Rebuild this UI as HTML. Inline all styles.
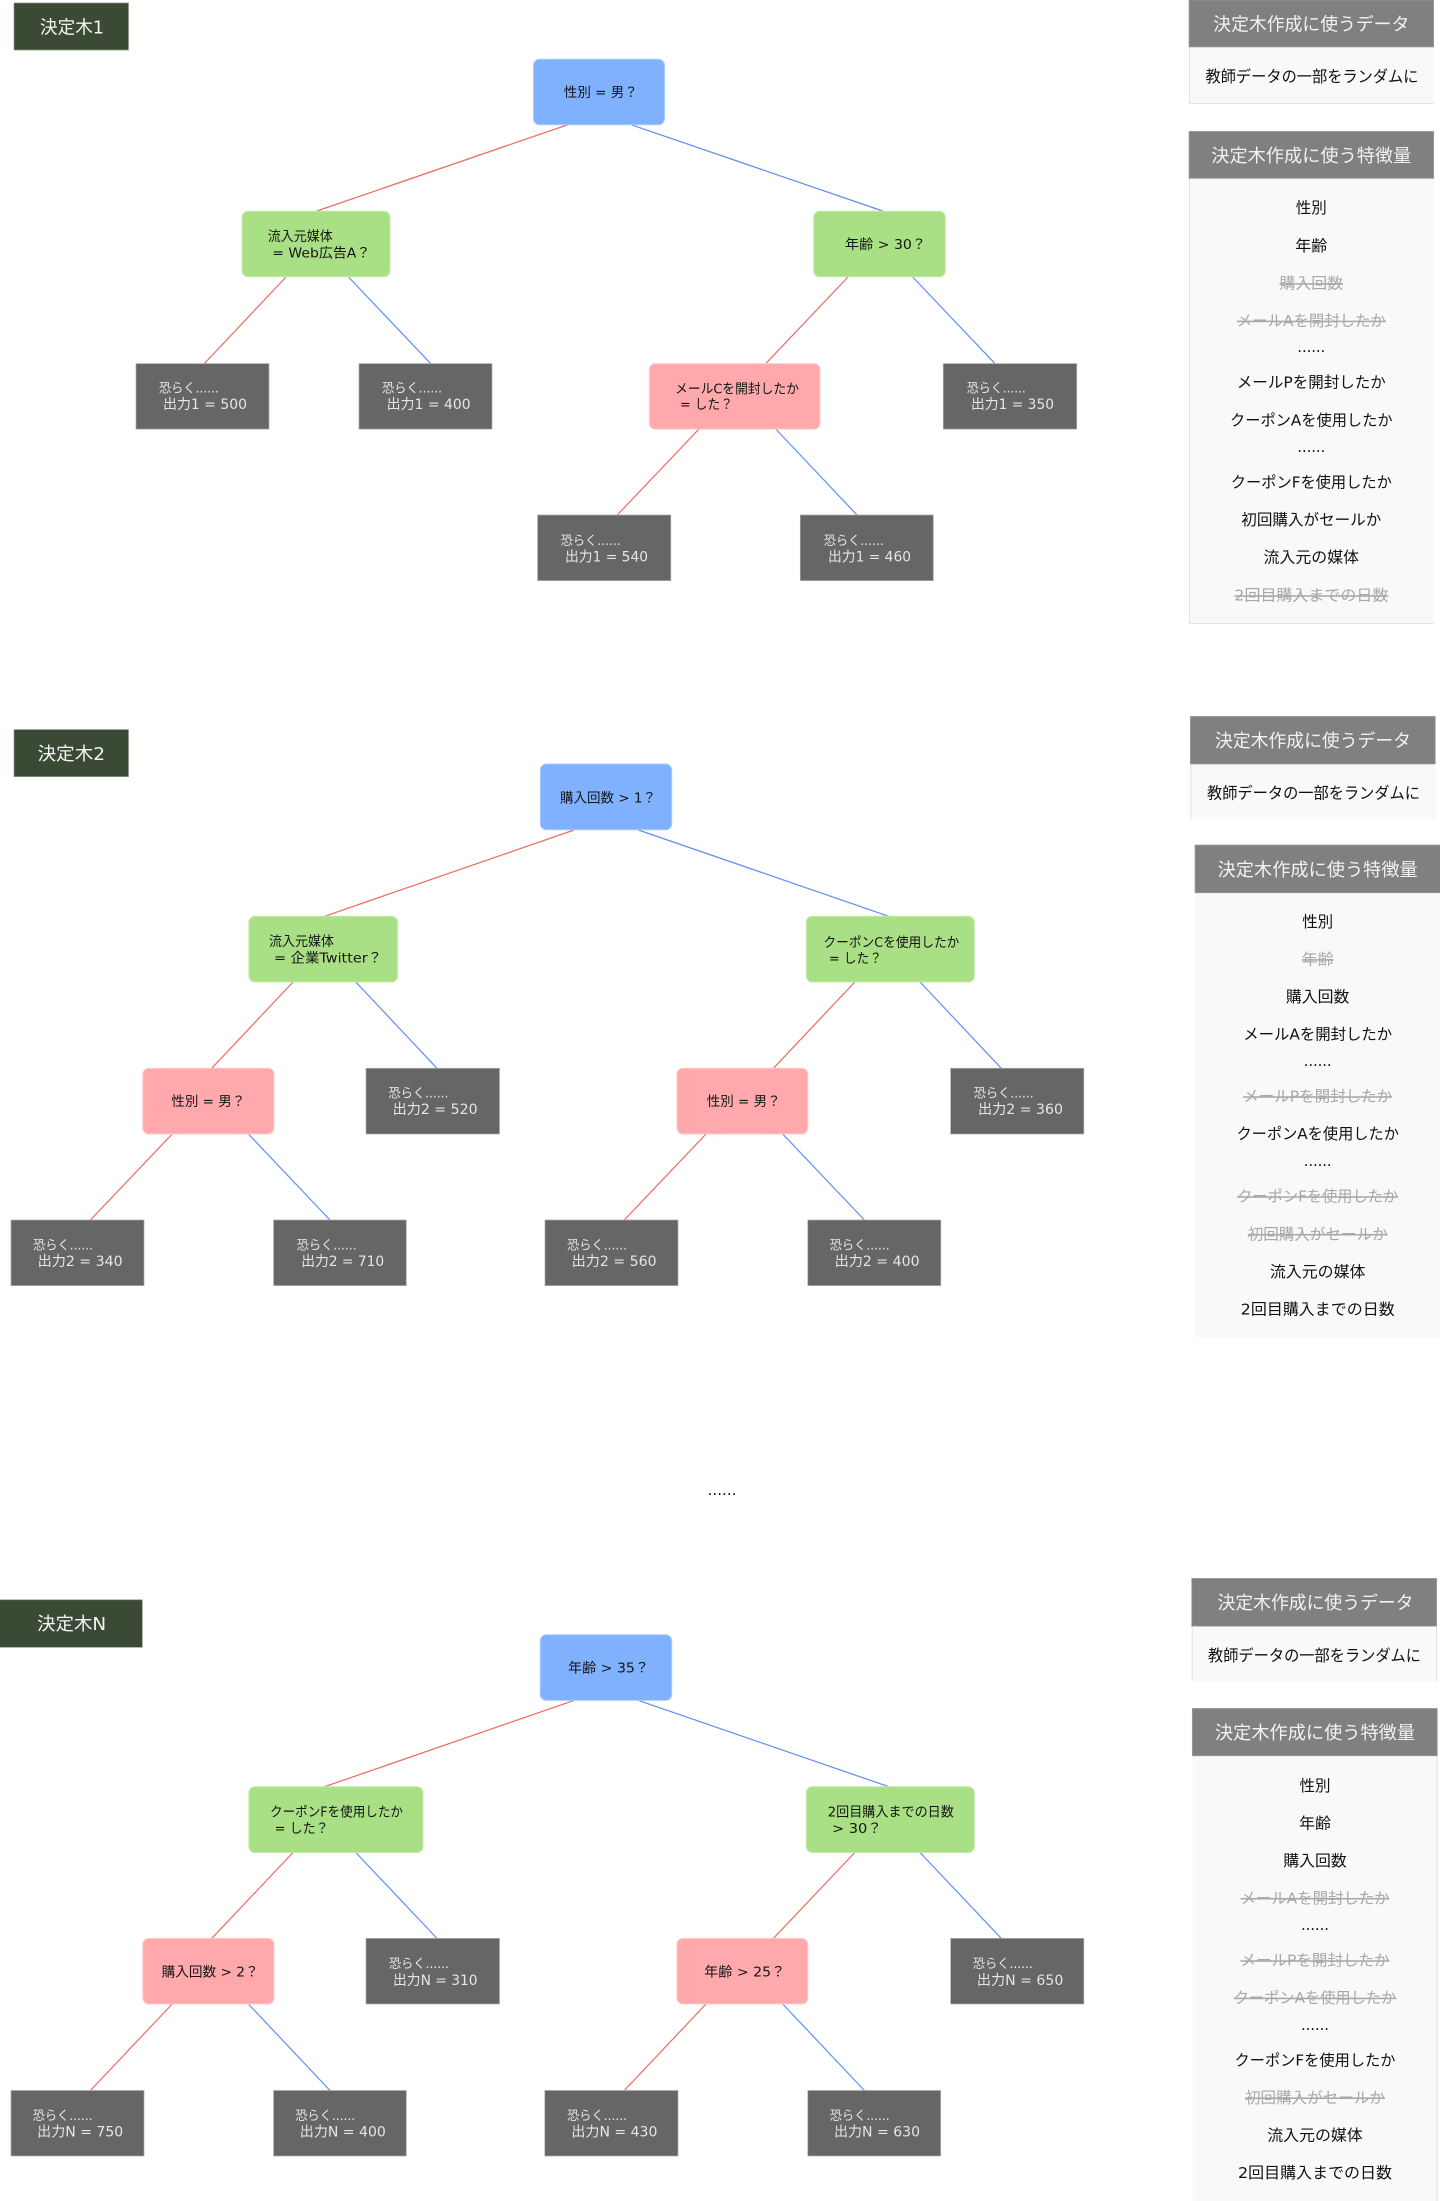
<!DOCTYPE html>
<html lang="ja">
<head>
<meta charset="utf-8">
<title>決定木</title>
<style>
html,body{margin:0;padding:0;background:#fff;width:1440px;height:2201px;overflow:hidden}
svg{display:block}
text{font-family:"DejaVu Sans","Noto Sans CJK JP",sans-serif}
.r{stroke:#ee6a5e;stroke-width:1.2;fill:none}
.b{stroke:#5f8ff0;stroke-width:1.2;fill:none}
.nb{fill:#80b1ff;stroke:#a9cbff;stroke-width:1}
.ng{fill:#aae085;stroke:#c4eaa9;stroke-width:1}
.np{fill:#ffa9ac;stroke:#ffcccd;stroke-width:1}
.lf{fill:#666;stroke:#aaa;stroke-width:.7}
.lb{fill:#3b4a35;stroke:#8a9385;stroke-width:.7}
.hd{fill:#808080;stroke:#a0a0a0;stroke-width:.7}
.bd{fill:#f9f9f9}
.e{stroke:#e2e2e2;stroke-width:1;fill:none}
.n{font-size:13.5px;fill:#151515}
.w1{font-size:13px;fill:#e6e6e6}
.w2{font-size:14px;fill:#e6e6e6}
.t{font-size:18px;fill:#f4f4f4}
.h{font-size:18px;fill:#f2f2f2;text-anchor:middle}
.d{font-size:16px;fill:#111;text-anchor:middle}
.i{font-size:15.5px;fill:#111;text-anchor:middle}
.s{font-size:15.5px;fill:#a8a8a8;text-anchor:middle;text-decoration:line-through}
.o{font-size:15px;fill:#111;text-anchor:middle}
</style>
</head>
<body>
<svg xmlns="http://www.w3.org/2000/svg" width="1440" height="2201" viewBox="0 0 1440 2201">
<rect width="1440" height="2201" fill="#fff"/>

<!-- Tree 1 connectors -->
<line class="r" x1="567" y1="125" x2="316.8" y2="211"/>
<line class="b" x1="632" y1="125" x2="882.7" y2="211"/>
<line class="r" x1="286" y1="277" x2="204.3" y2="363.6"/>
<line class="b" x1="348.5" y1="277" x2="430.7" y2="363.6"/>
<line class="r" x1="848" y1="277" x2="766" y2="363.3"/>
<line class="b" x1="912.7" y1="277" x2="994.7" y2="363.3"/>
<line class="r" x1="699" y1="429" x2="617.3" y2="515"/>
<line class="b" x1="775.7" y1="429" x2="857" y2="515"/>

<!-- Tree 1 nodes -->
<rect class="lb" x="14" y="3" width="114.5" height="47"/>
<text class="t" x="40" y="33.3" textLength="64" lengthAdjust="spacingAndGlyphs">決定木1</text>
<rect class="nb" x="533.5" y="59.3" width="131" height="65.5" rx="6"/>
<text class="n" x="563.8" y="97" textLength="74" lengthAdjust="spacingAndGlyphs">性別 = 男？</text>
<rect class="ng" x="242" y="211.3" width="148" height="65.5" rx="6"/>
<text class="n" x="267.7" y="241" textLength="65" lengthAdjust="spacingAndGlyphs">流入元媒体</text>
<text class="n" x="272.3" y="257.6" textLength="98" lengthAdjust="spacingAndGlyphs">= Web広告A？</text>
<rect class="ng" x="813.7" y="211.3" width="131.6" height="65.5" rx="6"/>
<text class="n" x="845" y="249" textLength="81" lengthAdjust="spacingAndGlyphs">年齢 &gt; 30？</text>
<rect class="lf" x="136" y="363.6" width="133" height="65.5"/>
<text class="w1" x="158.9" y="392.7" textLength="60" lengthAdjust="spacingAndGlyphs">恐らく......</text>
<text class="w2" x="163" y="409" textLength="84" lengthAdjust="spacingAndGlyphs">出力1 = 500</text>
<rect class="lf" x="359" y="363.6" width="133" height="65.5"/>
<text class="w1" x="382" y="392.7" textLength="60" lengthAdjust="spacingAndGlyphs">恐らく......</text>
<text class="w2" x="386.6" y="409" textLength="84" lengthAdjust="spacingAndGlyphs">出力1 = 400</text>
<rect class="np" x="649.3" y="363.6" width="170.7" height="65.5" rx="6"/>
<text class="n" x="675" y="393.3" textLength="124" lengthAdjust="spacingAndGlyphs">メールCを開封したか</text>
<text class="n" x="680" y="409" textLength="53" lengthAdjust="spacingAndGlyphs">= した？</text>
<rect class="lf" x="943.3" y="363.6" width="133.4" height="65.5"/>
<text class="w1" x="966.7" y="392.7" textLength="59" lengthAdjust="spacingAndGlyphs">恐らく......</text>
<text class="w2" x="971" y="409" textLength="83" lengthAdjust="spacingAndGlyphs">出力1 = 350</text>
<rect class="lf" x="537.6" y="515" width="133.2" height="65.6"/>
<text class="w1" x="560.6" y="545" textLength="60" lengthAdjust="spacingAndGlyphs">恐らく......</text>
<text class="w2" x="565" y="561.4" textLength="83" lengthAdjust="spacingAndGlyphs">出力1 = 540</text>
<rect class="lf" x="800.3" y="515" width="133" height="65.6"/>
<text class="w1" x="823.7" y="545" textLength="60" lengthAdjust="spacingAndGlyphs">恐らく......</text>
<text class="w2" x="828" y="561.4" textLength="83" lengthAdjust="spacingAndGlyphs">出力1 = 460</text>

<!-- Tree 1 panels -->
<rect class="bd" x="1189" y="47" width="244.7" height="56"/>
<path class="e" d="M1189.5 47V103.5H1434"/>
<rect class="hd" x="1189" y="0" width="244.7" height="47"/>
<text class="h" x="1311.3" y="30.6" textLength="196" lengthAdjust="spacingAndGlyphs">決定木作成に使うデータ</text>
<text class="d" x="1312" y="82.1" textLength="213" lengthAdjust="spacingAndGlyphs">教師データの一部をランダムに</text>
<rect class="bd" x="1189" y="178" width="244.7" height="445"/>
<path class="e" d="M1189.5 178V623.5H1434"/>
<rect class="hd" x="1189" y="131.4" width="244.7" height="47"/>
<text class="h" x="1311.3" y="162.1" textLength="200" lengthAdjust="spacingAndGlyphs">決定木作成に使う特徴量</text>
<text class="i" x="1311.3" y="213" textLength="31" lengthAdjust="spacingAndGlyphs">性別</text>
<text class="i" x="1311.3" y="251" textLength="32" lengthAdjust="spacingAndGlyphs">年齢</text>
<text class="s" x="1311.3" y="288.6" textLength="63.5" lengthAdjust="spacingAndGlyphs">購入回数</text>
<text class="s" x="1311.3" y="326.1" textLength="149" lengthAdjust="spacingAndGlyphs">メールAを開封したか</text>
<text class="o" x="1311.3" y="352" textLength="28">......</text>
<text class="i" x="1311.3" y="387.7" textLength="149" lengthAdjust="spacingAndGlyphs">メールPを開封したか</text>
<text class="i" x="1311.3" y="425.7" textLength="162.5" lengthAdjust="spacingAndGlyphs">クーポンAを使用したか</text>
<text class="o" x="1311.3" y="452" textLength="28">......</text>
<text class="i" x="1311.3" y="487.7" textLength="161" lengthAdjust="spacingAndGlyphs">クーポンFを使用したか</text>
<text class="i" x="1311.3" y="525.2" textLength="140" lengthAdjust="spacingAndGlyphs">初回購入がセールか</text>
<text class="i" x="1311.3" y="562.7" textLength="95.5" lengthAdjust="spacingAndGlyphs">流入元の媒体</text>
<text class="s" x="1311.3" y="600.7" textLength="154" lengthAdjust="spacingAndGlyphs">2回目購入までの日数</text>

<!-- Tree 2 connectors -->
<line class="r" x1="574" y1="830" x2="324.6" y2="916.3"/>
<line class="b" x1="638.4" y1="830" x2="888.8" y2="916.3"/>
<line class="r" x1="293" y1="982" x2="211.7" y2="1068.3"/>
<line class="b" x1="355.8" y1="982" x2="437" y2="1068.3"/>
<line class="r" x1="854.8" y1="982" x2="773.4" y2="1068.3"/>
<line class="b" x1="920" y1="982" x2="1001.3" y2="1068.3"/>
<line class="r" x1="172.2" y1="1134" x2="90.4" y2="1220"/>
<line class="b" x1="248.4" y1="1134" x2="330" y2="1220"/>
<line class="r" x1="706" y1="1134" x2="624.3" y2="1220"/>
<line class="b" x1="782.7" y1="1134" x2="864.4" y2="1220"/>

<!-- Tree 2 nodes -->
<rect class="lb" x="14" y="729.6" width="114.5" height="47"/>
<text class="t" x="37.6" y="759.8" textLength="67.5" lengthAdjust="spacingAndGlyphs">決定木2</text>
<rect class="nb" x="540.4" y="764" width="131.3" height="65.8" rx="6"/>
<text class="n" x="560" y="802.3" textLength="96" lengthAdjust="spacingAndGlyphs">購入回数 &gt; 1？</text>
<rect class="ng" x="248.9" y="916.3" width="148.7" height="65.7" rx="6"/>
<text class="n" x="269" y="946.2" textLength="65" lengthAdjust="spacingAndGlyphs">流入元媒体</text>
<text class="n" x="274" y="962.7" textLength="108" lengthAdjust="spacingAndGlyphs">= 企業Twitter？</text>
<rect class="ng" x="806.3" y="916.3" width="168" height="65.7" rx="6"/>
<text class="n" x="823.4" y="947" textLength="136" lengthAdjust="spacingAndGlyphs">クーポンCを使用したか</text>
<text class="n" x="829" y="963" textLength="53" lengthAdjust="spacingAndGlyphs">= した？</text>
<rect class="np" x="142.8" y="1068.3" width="131.2" height="65.7" rx="6"/>
<text class="n" x="171.3" y="1106" textLength="74" lengthAdjust="spacingAndGlyphs">性別 = 男？</text>
<rect class="lf" x="366" y="1068.3" width="133.5" height="65.7"/>
<text class="w1" x="388.4" y="1097.7" textLength="60" lengthAdjust="spacingAndGlyphs">恐らく......</text>
<text class="w2" x="392.6" y="1114.2" textLength="85" lengthAdjust="spacingAndGlyphs">出力2 = 520</text>
<rect class="np" x="676.9" y="1068.3" width="130.9" height="65.7" rx="6"/>
<text class="n" x="706.7" y="1106" textLength="74" lengthAdjust="spacingAndGlyphs">性別 = 男？</text>
<rect class="lf" x="950.6" y="1068.3" width="133.2" height="65.7"/>
<text class="w1" x="973.7" y="1097.7" textLength="60" lengthAdjust="spacingAndGlyphs">恐らく......</text>
<text class="w2" x="978" y="1114.2" textLength="85" lengthAdjust="spacingAndGlyphs">出力2 = 360</text>
<rect class="lf" x="11" y="1220" width="133" height="65.6"/>
<text class="w1" x="33" y="1249.7" textLength="60" lengthAdjust="spacingAndGlyphs">恐らく......</text>
<text class="w2" x="37.6" y="1266" textLength="85" lengthAdjust="spacingAndGlyphs">出力2 = 340</text>
<rect class="lf" x="273.6" y="1220" width="132.7" height="65.6"/>
<text class="w1" x="296.6" y="1249.7" textLength="60" lengthAdjust="spacingAndGlyphs">恐らく......</text>
<text class="w2" x="301.2" y="1266" textLength="83" lengthAdjust="spacingAndGlyphs">出力2 = 710</text>
<rect class="lf" x="545" y="1220" width="133" height="65.6"/>
<text class="w1" x="567" y="1249.7" textLength="60" lengthAdjust="spacingAndGlyphs">恐らく......</text>
<text class="w2" x="571.6" y="1266" textLength="85" lengthAdjust="spacingAndGlyphs">出力2 = 560</text>
<rect class="lf" x="807.8" y="1220" width="133" height="65.6"/>
<text class="w1" x="829.7" y="1249.7" textLength="60" lengthAdjust="spacingAndGlyphs">恐らく......</text>
<text class="w2" x="834.6" y="1266" textLength="85" lengthAdjust="spacingAndGlyphs">出力2 = 400</text>

<!-- Tree 2 panels -->
<rect class="bd" x="1190.3" y="764" width="245" height="55"/>
<path class="e" d="M1190.8 764V819"/>
<rect class="hd" x="1190.3" y="716.4" width="245" height="47.6"/>
<text class="h" x="1313" y="747" textLength="196" lengthAdjust="spacingAndGlyphs">決定木作成に使うデータ</text>
<text class="d" x="1313.5" y="798.5" textLength="213" lengthAdjust="spacingAndGlyphs">教師データの一部をランダムに</text>
<rect class="bd" x="1195" y="892.8" width="245" height="444.8"/>
<rect class="hd" x="1195" y="845" width="246" height="47.8"/>
<text class="h" x="1317.7" y="876" textLength="200" lengthAdjust="spacingAndGlyphs">決定木作成に使う特徴量</text>
<text class="i" x="1317.7" y="926.8" textLength="31" lengthAdjust="spacingAndGlyphs">性別</text>
<text class="s" x="1317.7" y="964.6" textLength="32" lengthAdjust="spacingAndGlyphs">年齢</text>
<text class="i" x="1317.7" y="1002" textLength="63.5" lengthAdjust="spacingAndGlyphs">購入回数</text>
<text class="i" x="1317.7" y="1039.5" textLength="149" lengthAdjust="spacingAndGlyphs">メールAを開封したか</text>
<text class="o" x="1317.7" y="1066" textLength="28">......</text>
<text class="s" x="1317.7" y="1101.7" textLength="149" lengthAdjust="spacingAndGlyphs">メールPを開封したか</text>
<text class="i" x="1317.7" y="1139.2" textLength="162.5" lengthAdjust="spacingAndGlyphs">クーポンAを使用したか</text>
<text class="o" x="1317.7" y="1165.8" textLength="28">......</text>
<text class="s" x="1317.7" y="1201.7" textLength="161" lengthAdjust="spacingAndGlyphs">クーポンFを使用したか</text>
<text class="s" x="1317.7" y="1239.4" textLength="140" lengthAdjust="spacingAndGlyphs">初回購入がセールか</text>
<text class="i" x="1317.7" y="1277.2" textLength="95.5" lengthAdjust="spacingAndGlyphs">流入元の媒体</text>
<text class="i" x="1317.7" y="1314.3" textLength="154" lengthAdjust="spacingAndGlyphs">2回目購入までの日数</text>

<!-- Middle dots -->
<text class="o" x="722" y="1495" textLength="29">......</text>

<!-- Tree N connectors -->
<line class="r" x1="574" y1="1700.4" x2="324.6" y2="1786.7"/>
<line class="b" x1="638.4" y1="1700.4" x2="888.8" y2="1786.7"/>
<line class="r" x1="293" y1="1852.5" x2="211.7" y2="1938.4"/>
<line class="b" x1="355.8" y1="1852.5" x2="437" y2="1938.4"/>
<line class="r" x1="854.8" y1="1852.5" x2="773.4" y2="1938.4"/>
<line class="b" x1="920" y1="1852.5" x2="1001.3" y2="1938.4"/>
<line class="r" x1="172.2" y1="2004" x2="90.4" y2="2090.5"/>
<line class="b" x1="248.4" y1="2004" x2="330" y2="2090.5"/>
<line class="r" x1="706" y1="2004" x2="624.3" y2="2090.5"/>
<line class="b" x1="782.7" y1="2004" x2="864.4" y2="2090.5"/>

<!-- Tree N nodes -->
<rect class="lb" x="-2" y="1599.8" width="144.3" height="47.5"/>
<text class="t" x="37.2" y="1630.1" textLength="69" lengthAdjust="spacingAndGlyphs">決定木N</text>
<rect class="nb" x="540.3" y="1634.7" width="131.4" height="65.7" rx="6"/>
<text class="n" x="568" y="1672.5" textLength="81" lengthAdjust="spacingAndGlyphs">年齢 &gt; 35？</text>
<rect class="ng" x="248.9" y="1786.7" width="174.1" height="65.8" rx="6"/>
<text class="n" x="270" y="1816.3" textLength="133" lengthAdjust="spacingAndGlyphs">クーポンFを使用したか</text>
<text class="n" x="274.6" y="1833" textLength="54" lengthAdjust="spacingAndGlyphs">= した？</text>
<rect class="ng" x="806.3" y="1786.7" width="168" height="65.8" rx="6"/>
<text class="n" x="827.8" y="1816.7" textLength="126" lengthAdjust="spacingAndGlyphs">2回目購入までの日数</text>
<text class="n" x="831.9" y="1833" textLength="50" lengthAdjust="spacingAndGlyphs">&gt; 30？</text>
<rect class="np" x="142.8" y="1938.4" width="131.2" height="65.6" rx="6"/>
<text class="n" x="161.6" y="1976.7" textLength="97" lengthAdjust="spacingAndGlyphs">購入回数 &gt; 2？</text>
<rect class="lf" x="366" y="1938.4" width="133.5" height="65.6"/>
<text class="w1" x="388.9" y="1968" textLength="60" lengthAdjust="spacingAndGlyphs">恐らく......</text>
<text class="w2" x="393" y="1985" textLength="84.5" lengthAdjust="spacingAndGlyphs">出力N = 310</text>
<rect class="np" x="676.9" y="1938.4" width="130.9" height="65.6" rx="6"/>
<text class="n" x="704.2" y="1976.7" textLength="81" lengthAdjust="spacingAndGlyphs">年齢 &gt; 25？</text>
<rect class="lf" x="950.6" y="1938.4" width="133.2" height="65.6"/>
<text class="w1" x="972.8" y="1968" textLength="60" lengthAdjust="spacingAndGlyphs">恐らく......</text>
<text class="w2" x="976.9" y="1985" textLength="86.4" lengthAdjust="spacingAndGlyphs">出力N = 650</text>
<rect class="lf" x="11" y="2090.5" width="133" height="65.5"/>
<text class="w1" x="32.6" y="2120" textLength="60" lengthAdjust="spacingAndGlyphs">恐らく......</text>
<text class="w2" x="37.2" y="2136.7" textLength="86" lengthAdjust="spacingAndGlyphs">出力N = 750</text>
<rect class="lf" x="273.6" y="2090.5" width="132.7" height="65.5"/>
<text class="w1" x="295.2" y="2120" textLength="60" lengthAdjust="spacingAndGlyphs">恐らく......</text>
<text class="w2" x="299.8" y="2136.7" textLength="86" lengthAdjust="spacingAndGlyphs">出力N = 400</text>
<rect class="lf" x="544.8" y="2090.5" width="133.2" height="65.5"/>
<text class="w1" x="567" y="2120" textLength="60" lengthAdjust="spacingAndGlyphs">恐らく......</text>
<text class="w2" x="571.4" y="2136.7" textLength="86" lengthAdjust="spacingAndGlyphs">出力N = 430</text>
<rect class="lf" x="807.8" y="2090.5" width="132.8" height="65.5"/>
<text class="w1" x="829.7" y="2120" textLength="60" lengthAdjust="spacingAndGlyphs">恐らく......</text>
<text class="w2" x="834" y="2136.7" textLength="86" lengthAdjust="spacingAndGlyphs">出力N = 630</text>

<!-- Tree N panels -->
<rect class="bd" x="1191.7" y="1626" width="245" height="55.4"/>
<path class="e" d="M1192.2 1626V1681.4M1436.5 1626V1681.4"/>
<rect class="hd" x="1191.7" y="1578.4" width="245" height="47.8"/>
<text class="h" x="1315.5" y="1609" textLength="196" lengthAdjust="spacingAndGlyphs">決定木作成に使うデータ</text>
<text class="d" x="1314.5" y="1661" textLength="213" lengthAdjust="spacingAndGlyphs">教師データの一部をランダムに</text>
<rect class="bd" x="1192.3" y="1755.8" width="245" height="445.2"/>
<path class="e" d="M1437 1755.8V2201"/>
<rect class="hd" x="1192.3" y="1708.4" width="245" height="47.4"/>
<text class="h" x="1315" y="1739" textLength="200" lengthAdjust="spacingAndGlyphs">決定木作成に使う特徴量</text>
<text class="i" x="1315" y="1791" textLength="31" lengthAdjust="spacingAndGlyphs">性別</text>
<text class="i" x="1315" y="1828.6" textLength="32" lengthAdjust="spacingAndGlyphs">年齢</text>
<text class="i" x="1315" y="1866.2" textLength="63.5" lengthAdjust="spacingAndGlyphs">購入回数</text>
<text class="s" x="1315" y="1903.4" textLength="149" lengthAdjust="spacingAndGlyphs">メールAを開封したか</text>
<text class="o" x="1315" y="1930" textLength="28">......</text>
<text class="s" x="1315" y="1965.7" textLength="149" lengthAdjust="spacingAndGlyphs">メールPを開封したか</text>
<text class="s" x="1315" y="2003.1" textLength="162.5" lengthAdjust="spacingAndGlyphs">クーポンAを使用したか</text>
<text class="o" x="1315" y="2030" textLength="28">......</text>
<text class="i" x="1315" y="2065.3" textLength="161" lengthAdjust="spacingAndGlyphs">クーポンFを使用したか</text>
<text class="s" x="1315" y="2102.9" textLength="140" lengthAdjust="spacingAndGlyphs">初回購入がセールか</text>
<text class="i" x="1315" y="2140.5" textLength="95.5" lengthAdjust="spacingAndGlyphs">流入元の媒体</text>
<text class="i" x="1315" y="2178.1" textLength="154" lengthAdjust="spacingAndGlyphs">2回目購入までの日数</text>
</svg>
</body>
</html>
